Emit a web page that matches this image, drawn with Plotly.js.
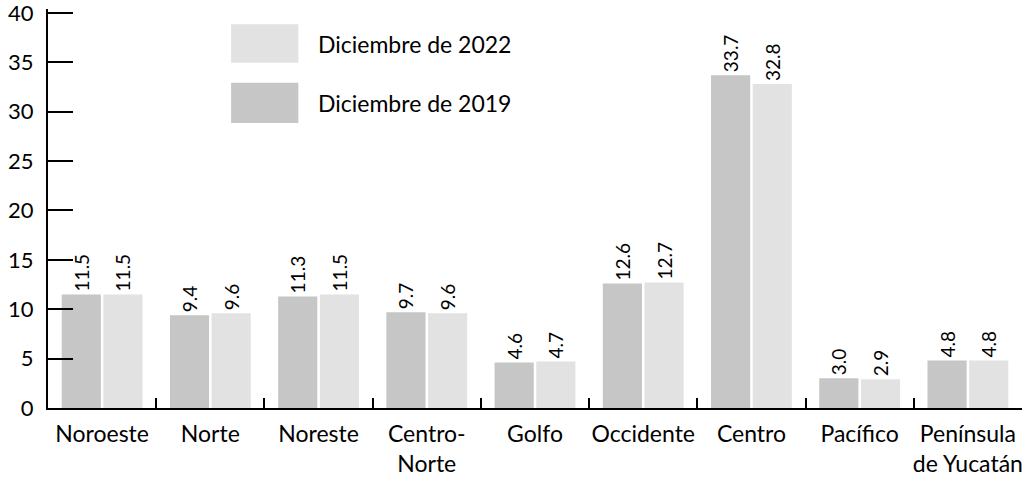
<!DOCTYPE html>
<html><head><meta charset="utf-8">
<script src="https://cdn.plot.ly/plotly-3.0.1.min.js"></script>
<style>html,body{margin:0;padding:0;background:#fff}#chart{width:1034px;height:481px}</style>
</head><body><div id="chart"></div>
<script>
const categories = ["Noroeste","Norte","Noreste","Centro-<br>Norte","Golfo","Occidente","Centro","Pacífico","Península<br>de Yucatán"];
const values2019 = [11.5, 9.4, 11.3, 9.7, 4.6, 12.6, 33.7, 3.0, 4.8];
const values2022 = [11.5, 9.6, 11.5, 9.6, 4.7, 12.7, 32.8, 2.9, 4.8];
const name2019 = "Diciembre de 2019";
const name2022 = "Diciembre de 2022";
const yTicks = [0,5,10,15,20,25,30,35,40];

const fontFam = "Lato, Noto Sans, sans-serif";
const c2019 = "#c6c6c6", c2022 = "#e2e2e2";
const fmt = v => v.toFixed(1);

const traces = [
  {type:"bar", x:categories, y:values2019, name:name2019, marker:{color:c2019},
   text:values2019.map(fmt), textposition:"outside", textangle:-90, cliponaxis:false,
   textfont:{family:fontFam,size:19,color:"#000"}},
  {type:"bar", x:categories, y:values2022, name:name2022, marker:{color:c2022},
   text:values2022.map(fmt), textposition:"outside", textangle:-90, cliponaxis:false,
   textfont:{family:fontFam,size:19,color:"#000"}}
];

const layout = {
  width:1034, height:481,
  margin:{l:48, r:12, t:9, b:73},
  paper_bgcolor:"#fff", plot_bgcolor:"#fff",
  showlegend:false,
  barmode:"group", bargap:0.23, bargroupgap:0.06,
  font:{family:fontFam, size:23, color:"#000"},
  xaxis:{type:"category", showline:true, linecolor:"#000", linewidth:2,
         ticks:"inside", tickson:"boundaries", ticklen:10, tickwidth:2, tickcolor:"#000",
         ticklabelstandoff:4,
         showgrid:false, tickangle:0, tickfont:{size:23, family:fontFam}, automargin:false},
  yaxis:{range:[0,40.4], autorange:false, tickmode:"array", tickvals:yTicks, ticktext:yTicks.map(String),
         showline:true, linecolor:"#000", linewidth:2,
         ticks:"inside", ticklen:25, tickwidth:2, tickcolor:"#000", showgrid:false,
         ticklabelstandoff:8, ticklabeloverflow:"allow",
         zeroline:false, tickfont:{size:22, family:fontFam}, automargin:false},
  shapes:[
    {type:"rect", xref:"paper", yref:"paper", x0:0.188, x1:0.257, y0:0.865, y1:0.962, fillcolor:c2022, line:{width:0}},
    {type:"rect", xref:"paper", yref:"paper", x0:0.188, x1:0.257, y0:0.714, y1:0.815, fillcolor:c2019, line:{width:0}}
  ],
  annotations:[
    {xref:"paper", yref:"paper", x:0.275, y:0.913, xanchor:"left", yanchor:"middle", text:name2022, showarrow:false, font:{size:23}},
    {xref:"paper", yref:"paper", x:0.275, y:0.764, xanchor:"left", yanchor:"middle", text:name2019, showarrow:false, font:{size:23}}
  ]
};
Plotly.newPlot("chart", traces, layout, {displayModeBar:false, staticPlot:true});
</script></body></html>
